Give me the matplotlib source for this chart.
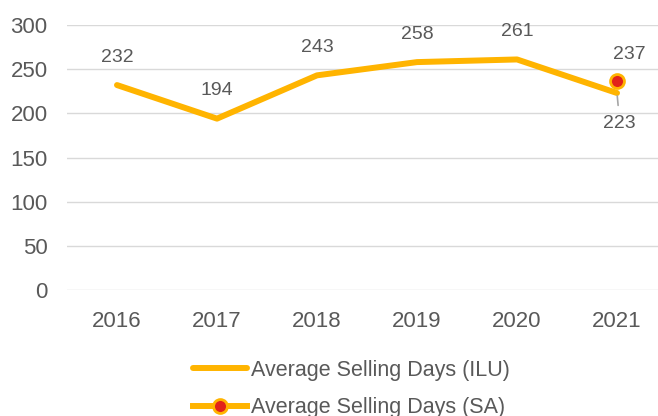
import matplotlib.pyplot as plt

plt.rcParams['font.family'] = ['Liberation Sans', 'DejaVu Sans']

years = ['2016', '2017', '2018', '2019', '2020', '2021']
ilu_days = [232, 194, 243, 258, 261, 223]
sa_year = ['2021']
sa_days = [237]
yticks = [0, 50, 100, 150, 200, 250, 300]

gold = '#FFB400'
red = '#E2231A'
grey_text = '#595959'

fig = plt.figure(figsize=(6.58, 4.16), dpi=100)
ax = fig.add_axes([67 / 658, 1 - 290 / 416, 600 / 658, 265 / 416])

x = list(range(len(years)))
ax.plot(x, ilu_days, color=gold, lw=4.3, solid_capstyle='round',
        label='Average Selling Days (ILU)', zorder=3)
sa_x = [years.index(y) for y in sa_year]
ax.plot(sa_x, sa_days, color=gold, lw=4.3, marker='o', markersize=10,
        markerfacecolor=red, markeredgecolor=gold, markeredgewidth=2,
        label='Average Selling Days (SA)', zorder=4)

# data labels
for i, v in enumerate(ilu_days[:-1]):
    ax.annotate(str(v), (i, v), xytext=(0, 20), textcoords='offset points',
                ha='center', va='center', fontsize=14, color=grey_text)
ax.annotate(str(ilu_days[-1]), (x[-1], ilu_days[-1]), xytext=(2, -22),
            textcoords='offset points', ha='center', va='center', fontsize=14,
            color=grey_text,
            arrowprops=dict(arrowstyle='-', color='#A6A6A6', lw=1.2,
                            shrinkA=5, shrinkB=2))
ax.annotate(str(sa_days[0]), (sa_x[0], sa_days[0]), xytext=(9, 19),
            textcoords='offset points', ha='center', va='center', fontsize=14,
            color=grey_text)

ax.set_xlim(-0.5, len(years) - 0.5)
ax.set_ylim(0, 300)
ax.set_yticks(yticks)
ax.set_xticks(x)
ax.set_xticklabels(years)
ax.tick_params(axis='both', length=0, labelsize=16, colors=grey_text)
ax.tick_params(axis='x', pad=15)
ax.tick_params(axis='y', pad=14)
ax.grid(axis='y', color='#D9D9D9', lw=1)
ax.set_axisbelow(True)
for s in ax.spines.values():
    s.set_visible(False)

leg = fig.legend(loc='upper left', bbox_to_anchor=(193 / 658, 1 - 360 / 416),
                 ncol=1, frameon=False, fontsize=15.5, handlelength=2.5,
                 handletextpad=0.2, labelspacing=0.75, borderaxespad=0,
                 borderpad=0)
for t in leg.get_texts():
    t.set_color(grey_text)

fig.savefig('out.png', dpi=100)
